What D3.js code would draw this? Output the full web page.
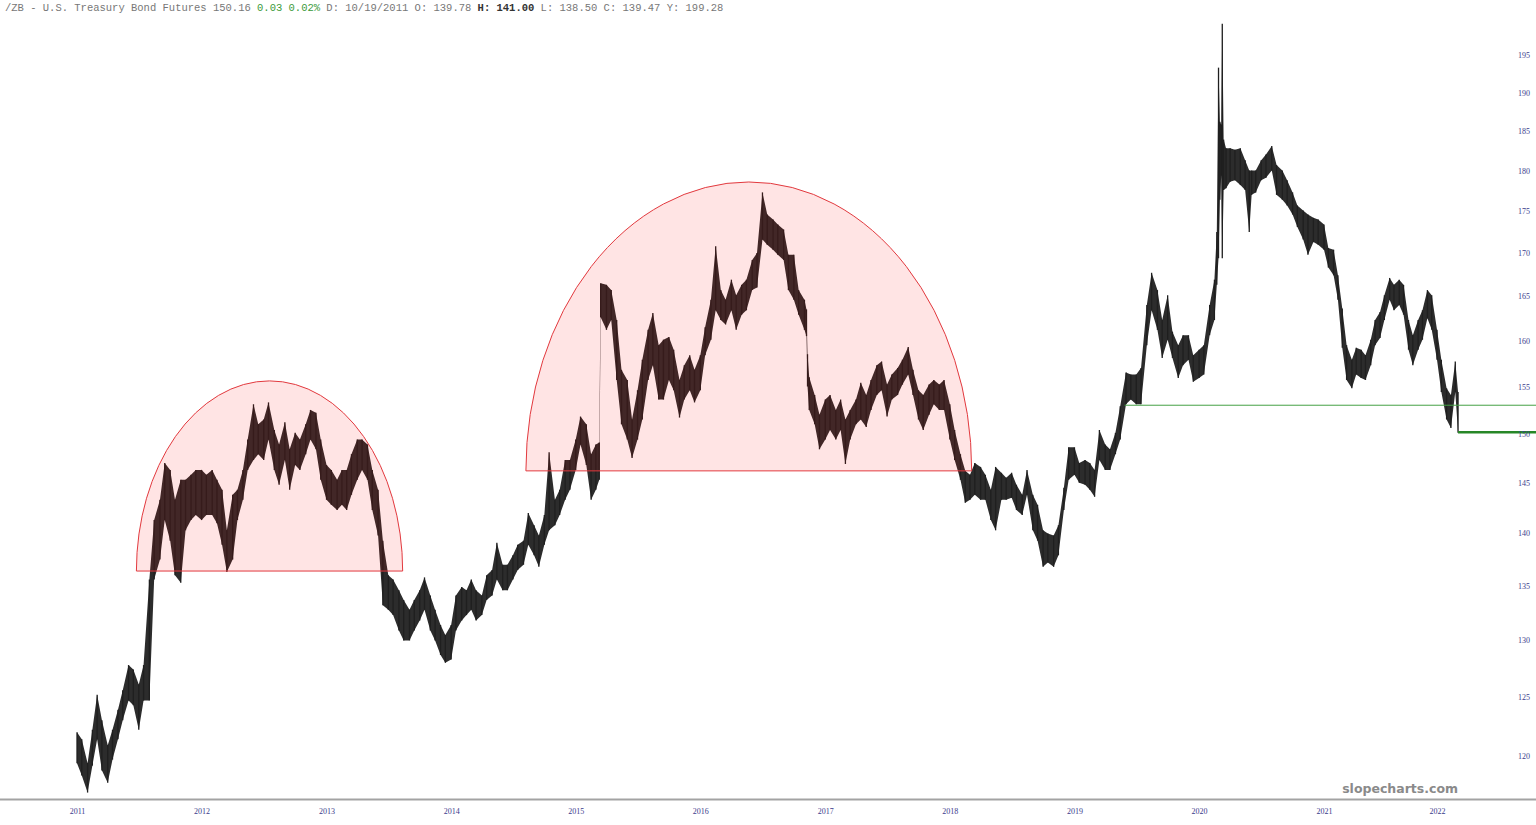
<!DOCTYPE html>
<html><head><meta charset="utf-8">
<script src="https://cdn.jsdelivr.net/npm/d3@7"></script>
<style>html,body{margin:0;padding:0;background:#fff;overflow:hidden}</style>
</head><body>
<svg id="chart" width="1536" height="825"></svg>
<script>
// ---------- data ----------
const headerParts = [
  {text: "/ZB - U.S. Treasury Bond Futures 150.16 ", kind: "plain"},
  {text: "0.03 0.02%", kind: "change"},
  {text: " D: 10/19/2011 O: 139.78 ", kind: "plain"},
  {text: "H: 141.00", kind: "bold"},
  {text: " L: 138.50 C: 139.47 Y: 199.28", kind: "plain"}
];
const yTicks = [120,125,130,135,140,145,150,155,160,165,170,175,180,185,190,195];
const xTickDates = ["2011-01-01","2012-01-01","2013-01-01","2014-01-01","2015-01-01","2016-01-01",
  "2017-01-01","2018-01-01","2019-01-01","2020-01-01","2021-01-01","2022-01-01"];
// [date, high, low]
const bars = [
["2011-01-01",122.0,119.4],["2011-01-15",121.4,118.4],["2011-02-01",119.4,117.0],["2011-02-15",122.2,119.2],
["2011-03-01",125.2,121.4],["2011-03-15",123.0,118.8],["2011-04-01",120.9,117.8],["2011-04-15",122.2,119.7],
["2011-05-01",123.9,121.4],["2011-05-15",125.6,123.0],["2011-06-01",127.8,124.7],["2011-06-15",127.4,124.3],
["2011-07-01",126.1,122.2],["2011-07-15",127.8,124.7],["2011-08-01",135.6,124.7],["2011-08-15",141.3,135.6],
["2011-09-01",143.3,137.5],["2011-09-15",147.0,141.3],["2011-10-01",146.3,139.3],["2011-10-15",143.3,136.0],
["2011-11-01",145.3,135.3],["2011-11-15",145.3,140.3],["2011-12-01",145.8,141.3],["2011-12-15",146.3,141.8],
["2012-01-01",146.3,141.3],["2012-01-15",145.8,141.8],["2012-02-01",146.3,141.8],["2012-02-15",145.3,141.0],
["2012-03-01",144.3,138.9],["2012-03-15",140.3,136.3],["2012-04-01",143.8,137.5],["2012-04-15",144.3,141.3],
["2012-05-01",146.3,143.3],["2012-05-15",149.4,146.3],["2012-06-01",153.1,147.3],["2012-06-15",151.0,147.9],
["2012-07-01",151.5,147.3],["2012-07-15",153.3,149.4],["2012-08-01",150.4,146.3],["2012-08-15",148.9,144.8],
["2012-09-01",151.2,147.3],["2012-09-15",148.4,144.3],["2012-10-01",150.1,146.8],["2012-10-15",149.4,146.3],
["2012-11-01",151.0,147.9],["2012-11-15",152.5,149.4],["2012-12-01",152.2,148.4],["2012-12-15",149.4,145.3],
["2013-01-01",146.8,143.3],["2013-01-15",146.3,142.8],["2013-02-01",145.3,142.3],["2013-02-15",146.3,142.8],
["2013-03-01",146.3,142.3],["2013-03-15",147.9,143.8],["2013-04-01",149.4,145.3],["2013-04-15",149.4,146.3],
["2013-05-01",148.9,145.3],["2013-05-15",146.3,142.3],["2013-06-01",144.3,139.8],["2013-06-15",139.3,133.2],
["2013-07-01",136.0,132.8],["2013-07-15",135.6,132.3],["2013-08-01",134.6,130.9],["2013-08-15",133.7,130.0],
["2013-09-01",132.8,130.0],["2013-09-15",133.7,130.9],["2013-10-01",134.6,131.8],["2013-10-15",135.8,132.8],
["2013-11-01",134.1,130.9],["2013-11-15",132.8,130.0],["2013-12-01",131.4,128.7],["2013-12-15",130.5,128.0],
["2014-01-01",131.4,128.3],["2014-01-15",134.1,130.9],["2014-02-01",134.9,131.8],["2014-02-15",134.6,132.3],
["2014-03-01",135.6,132.8],["2014-03-15",134.6,131.8],["2014-04-01",134.1,132.3],["2014-04-15",136.0,133.7],
["2014-05-01",136.5,134.1],["2014-05-15",139.1,135.6],["2014-06-01",137.0,134.6],["2014-06-15",137.0,134.6],
["2014-07-01",137.9,135.6],["2014-07-15",138.9,136.5],["2014-08-01",139.3,137.0],["2014-08-15",142.0,138.9],
["2014-09-01",140.8,137.9],["2014-09-15",139.8,136.8],["2014-10-01",141.8,138.9],["2014-10-15",148.1,140.3],
["2014-11-01",143.3,140.8],["2014-11-15",144.3,141.8],["2014-12-01",147.3,143.3],["2014-12-15",147.3,144.3],
["2015-01-01",149.4,146.3],["2015-01-15",151.8,148.9],["2015-02-01",151.0,146.8],["2015-02-15",147.9,143.3],
["2015-03-01",148.9,144.3],["2015-03-11",149.1,145.3],["2015-03-15",166.5,162.6],["2015-04-01",166.3,161.2],
["2015-04-15",165.7,162.3],["2015-05-01",162.3,155.7],["2015-05-15",156.8,151.0],["2015-06-01",155.7,149.4],
["2015-06-15",151.5,147.5],["2015-07-01",154.6,149.4],["2015-07-15",157.9,151.5],["2015-08-01",161.2,155.7],
["2015-08-15",163.1,157.3],["2015-09-01",159.5,153.6],["2015-09-15",160.1,153.6],["2015-10-01",160.4,155.7],
["2015-10-15",159.0,154.6],["2015-11-01",155.7,151.7],["2015-11-15",157.3,153.6],["2015-12-01",158.4,154.6],
["2015-12-15",156.8,153.3],
["2016-01-01",158.4,154.6],["2016-01-15",161.5,158.4],["2016-02-01",164.6,160.1],["2016-02-15",170.8,163.4],
["2016-03-01",165.7,162.3],["2016-03-15",164.6,161.8],["2016-04-01",166.9,163.4],["2016-04-15",165.1,161.2],
["2016-05-01",166.3,162.9],["2016-05-15",166.9,163.4],["2016-06-01",169.2,165.7],["2016-06-15",170.0,166.0],
["2016-07-01",177.3,171.6],["2016-07-15",174.6,171.0],["2016-08-01",174.0,170.4],["2016-08-15",173.4,169.8],
["2016-09-01",172.8,169.2],["2016-09-15",169.8,165.7],["2016-10-01",169.8,164.6],["2016-10-15",165.7,162.9],
["2016-11-01",164.6,161.2],["2016-11-07",163.5,160.5],["2016-11-10",158.5,155.0],["2016-11-15",156.0,152.5],
["2016-12-01",154.1,151.0],["2016-12-15",152.0,148.4],
["2017-01-01",153.6,149.4],["2017-01-15",154.1,150.4],["2017-02-01",152.5,149.4],["2017-02-15",153.6,150.4],
["2017-03-01",151.5,146.9],["2017-03-15",152.5,149.4],["2017-04-01",153.6,151.0],["2017-04-15",155.4,151.5],
["2017-05-01",154.1,150.7],["2017-05-15",155.7,152.5],["2017-06-01",157.3,154.1],["2017-06-15",157.7,154.6],
["2017-07-01",155.2,151.8],["2017-07-15",156.3,153.6],["2017-08-01",157.0,154.1],["2017-08-15",157.9,155.2],
["2017-09-01",159.3,156.3],["2017-09-15",156.8,154.1],["2017-10-01",154.6,151.5],["2017-10-15",154.1,150.4],
["2017-11-01",155.2,152.0],["2017-11-15",155.7,153.1],["2017-12-01",155.2,152.5],["2017-12-15",155.7,152.5],
["2018-01-01",153.1,149.4],["2018-01-15",150.4,147.3],["2018-02-01",147.9,145.3],["2018-02-15",146.2,143.0],
["2018-03-01",145.8,143.3],["2018-03-15",147.0,143.8],["2018-04-01",146.6,143.3],["2018-04-15",145.8,143.3],
["2018-05-01",144.3,141.3],["2018-05-15",146.6,140.3],["2018-06-01",146.0,143.3],["2018-06-15",145.5,143.3],
["2018-07-01",146.0,143.5],["2018-07-15",144.8,142.3],["2018-08-01",143.8,141.8],["2018-08-15",146.3,143.8],
["2018-09-01",143.8,140.3],["2018-09-15",142.8,139.3],["2018-10-01",140.3,136.8],["2018-10-15",140.0,137.2],
["2018-11-01",139.8,136.8],["2018-11-15",140.8,137.9],["2018-12-01",144.5,142.3],["2018-12-15",148.6,145.3],
["2019-01-01",148.6,145.8],["2019-01-15",147.0,145.0],["2019-02-01",147.3,144.8],["2019-02-15",147.0,144.3],
["2019-03-01",146.3,143.6],["2019-03-15",150.4,147.3],["2019-04-01",148.9,146.3],["2019-04-15",148.4,146.3],
["2019-05-01",150.1,147.9],["2019-05-15",152.9,149.4],["2019-06-01",156.5,153.1],["2019-06-15",156.3,153.6],
["2019-07-01",156.3,153.1],["2019-07-15",157.0,153.1],["2019-08-01",164.0,159.5],["2019-08-15",167.7,163.4],
["2019-09-01",165.7,161.2],["2019-09-15",162.3,158.1],["2019-10-01",165.1,160.1],["2019-10-15",161.0,158.1],
["2019-11-01",159.5,155.9],["2019-11-15",160.6,157.3],["2019-12-01",160.6,157.9],["2019-12-15",158.4,155.5],
["2020-01-01",159.0,155.9],["2020-01-15",159.5,156.3],["2020-02-01",164.0,160.6],["2020-02-15",166.9,162.3],
["2020-02-22",172.5,166.3],["2020-02-27",193.3,169.4],["2020-03-02",186.2,176.4],["2020-03-06",185.8,179.4],
["2020-03-09",199.28,169.4],["2020-03-13",183.9,177.6],["2020-03-20",182.8,177.8],["2020-04-01",182.8,178.6],
["2020-04-15",182.6,178.8],["2020-05-01",182.8,178.2],["2020-05-15",181.3,177.6],["2020-05-27",180.0,172.5],
["2020-06-03",180.0,177.0],["2020-06-15",180.0,177.3],["2020-07-01",181.3,178.8],["2020-07-15",182.0,179.1],
["2020-08-01",183.1,180.0],["2020-08-15",180.7,177.0],["2020-09-01",180.0,176.4],["2020-09-15",178.8,175.7],
["2020-10-01",177.3,174.6],["2020-10-15",175.7,173.1],["2020-11-01",175.1,171.6],["2020-11-15",174.6,169.8],
["2020-12-01",174.2,171.3],["2020-12-15",174.0,171.0],
["2021-01-01",173.4,170.4],["2021-01-15",170.6,168.3],["2021-02-01",170.4,167.4],["2021-02-15",167.4,164.6],
["2021-03-01",163.6,159.2],["2021-03-15",159.5,155.7],["2021-04-01",157.9,154.8],["2021-04-15",159.2,156.3],
["2021-05-01",159.0,155.9],["2021-05-15",158.4,155.7],["2021-06-01",160.1,157.3],["2021-06-15",162.3,159.5],
["2021-07-01",163.2,160.3],["2021-07-15",165.1,162.3],["2021-08-01",167.1,164.6],["2021-08-15",166.3,163.4],
["2021-09-01",166.9,164.0],["2021-09-15",166.3,162.9],["2021-10-01",162.3,159.0],["2021-10-15",160.6,157.3],
["2021-11-01",162.3,159.0],["2021-11-15",163.4,160.1],["2021-12-01",165.7,162.5],["2021-12-15",165.1,161.2],
["2022-01-01",161.2,157.9],["2022-01-15",157.9,154.4],["2022-02-01",154.8,151.5],["2022-02-15",154.1,150.6],
["2022-03-01",157.7,154.4],["2022-03-10",154.4,150.1]
];
// rounded-top annotations: start, end, base price, top price
const arcs = [
  {start: "2011-06-24", end: "2013-08-12", base: 136.4, top: 155.6},
  {start: "2014-08-08", end: "2018-03-06", base: 146.2, top: 178.6}
];
// horizontal levels: start date, price
const levels = [
  {start: "2019-05-28", price: 153.0, kind: "thin"},
  {start: "2022-03-10", price: 150.16, kind: "thick"}
];
const watermark = "slopecharts.com";

// ---------- drawing ----------
const W = 1536, H = 825;
const svg = d3.select("#chart");
const parse = d3.utcParse("%Y-%m-%d");
const data = bars.map(d => ({date: parse(d[0]), high: d[1], low: d[2]}));

const x = d3.scaleUtc()
  .domain([parse("2011-01-01"), parse("2021-01-01"), parse("2022-01-01")])
  .range([77, 1324, 1437]);
const y = d3.scaleLog().domain([120, 195]).range([756, 55]);

// price band
const area = d3.area().x(d => x(d.date)).y0(d => y(d.low)).y1(d => y(d.high));
svg.append("path").datum(data).attr("d", area).attr("fill", "#2c2c2c");
svg.append("g").selectAll("line").data(data).join("line")
  .attr("x1", d => x(d.date)).attr("x2", d => x(d.date))
  .attr("y1", d => y(d.low)).attr("y2", d => y(d.high))
  .attr("stroke", "#1f1f1f").attr("stroke-width", 1.3);

// annotations
svg.append("g").selectAll("path").data(arcs).join("path")
  .attr("d", a => {
    const x0 = x(parse(a.start)), x1 = x(parse(a.end));
    const yb = y(a.base), yt = y(a.top);
    const rx = (x1 - x0) / 2, ry = yb - yt;
    return `M${x0},${yb} A${rx},${ry} 0 0 1 ${x1},${yb} Z`;
  })
  .attr("fill", "rgba(255,0,0,0.105)")
  .attr("stroke", "#e2393e").attr("stroke-width", 1);

svg.append("g").selectAll("line").data(levels).join("line")
  .attr("x1", d => x(parse(d.start))).attr("x2", W)
  .attr("y1", d => y(d.price)).attr("y2", d => y(d.price))
  .attr("stroke", d => d.kind === "thick" ? "#278727" : "#44a044")
  .attr("stroke-width", d => d.kind === "thick" ? 2.5 : 1);

// axes
svg.append("line").attr("x1", 0).attr("x2", W).attr("y1", 799.5).attr("y2", 799.5)
  .attr("stroke", "#a3a3a3").attr("stroke-width", 2);

const xAxis = svg.append("g").attr("transform", "translate(0,800)")
  .call(d3.axisBottom(x).tickValues(xTickDates.map(parse)).tickSize(0).tickPadding(8)
    .tickFormat(d3.utcFormat("%Y")));
xAxis.select(".domain").remove();
xAxis.selectAll("text").attr("font-family", "'Liberation Serif', serif").attr("font-size", 8).attr("fill", "#3b3b8c");

const yAxis = svg.append("g").attr("transform", "translate(1515,0)")
  .call(d3.axisRight(y).tickValues(yTicks).tickSize(0).tickPadding(3).tickFormat(d3.format("d")));
yAxis.select(".domain").remove();
yAxis.selectAll("text").attr("font-family", "'Liberation Serif', serif").attr("font-size", 8).attr("fill", "#3b3b8c");

// header
const header = svg.append("text").attr("x", 5).attr("y", 11)
  .attr("font-family", "'Liberation Mono', monospace").attr("font-size", 10.5)
  .style("white-space", "pre");
header.selectAll("tspan").data(headerParts).join("tspan")
  .text(d => d.text)
  .attr("fill", d => d.kind === "change" ? "#3a9a3a" : d.kind === "bold" ? "#333" : "#777")
  .attr("font-weight", d => d.kind === "bold" ? "bold" : "normal");

// watermark
svg.append("text").attr("x", 1458).attr("y", 793).attr("text-anchor", "end")
  .attr("font-family", "'DejaVu Sans', sans-serif").attr("font-weight", "bold").attr("font-size", 12.5)
  .attr("fill", "#8a8a8a").text(watermark);
</script>
</body></html>
